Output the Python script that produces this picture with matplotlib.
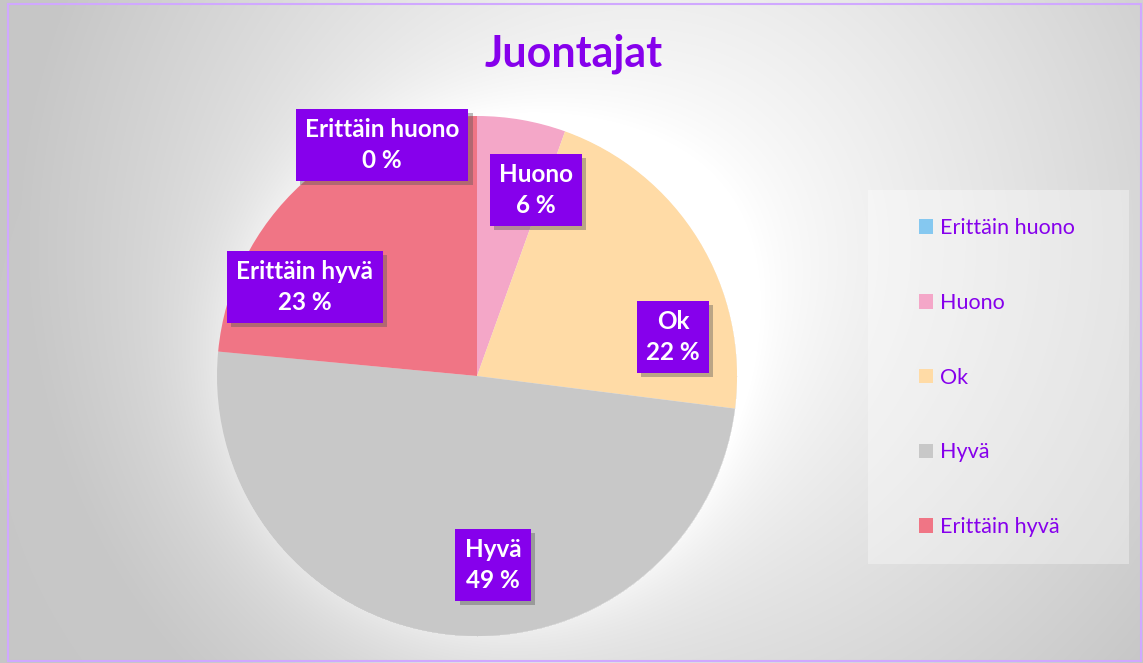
import numpy as np
import matplotlib.pyplot as plt
import matplotlib.patheffects as pe
from matplotlib.patches import Rectangle

# data
categories = ["Erittäin huono", "Huono", "Ok", "Hyvä", "Erittäin hyvä"]
shares = [0, 5.5, 21.5, 49.5, 23.5]
pct_labels = ["0 %", "6 %", "22 %", "49 %", "23 %"]
colors = ["#85C8F0", "#F4A7C8", "#FFDBA6", "#C8C8C8", "#F07585"]

# layout in pixels (y measured from top)
W, H = 1143, 663
cx, cy, R = 477, 376, 260
label_pos = [(382, 145), (536, 190), (673, 337), (493, 565), (305, 287)]
purple = "#8600EC"

plt.rcParams['font.family'] = ['Lato', 'DejaVu Sans']

fig = plt.figure(figsize=(W / 100, H / 100), dpi=100)
ax = fig.add_axes([0, 0, 1, 1])

# background: radial grey gradient plus soft white glow around the pie
yy, xx = np.mgrid[0:H, 0:W]
d = np.sqrt((xx - 660) ** 2 + (yy - 240) ** 2) / 640
v = 1 - 0.22 * np.clip(d, 0, 1) ** 1.2
dp = np.sqrt((xx - cx) ** 2 + (yy - cy) ** 2) - R
glow = np.where(dp > 0, np.exp(-dp / 45), 0)
v = np.clip(v + 0.06 * glow, 0, 1)
img = np.dstack([v, v, v])
ax.imshow(img, extent=(0, W, 0, H), origin='upper', zorder=0)

wedges, _ = ax.pie(shares, colors=colors, startangle=90, counterclock=False,
                   center=(cx, H - cy), radius=R,
                   wedgeprops=dict(linewidth=0))
for w in wedges:
    w.set_zorder(2)

for (px, py), cat, pct in zip(label_pos, categories, pct_labels):
    t = ax.text(px, H - py, cat + "\n" + pct, ha='center', va='center',
                ma='center', color='white', fontsize=17.5, fontweight='bold',
                linespacing=1.4, zorder=5,
                bbox=dict(boxstyle='square,pad=0.38', fc=purple, ec='none'))
    t.get_bbox_patch().set_path_effects(
        [pe.SimplePatchShadow(offset=(3, -3), shadow_rgbFace='#555555', alpha=0.4),
         pe.Normal()])

ax.text(574, H - 67, "Juontajat", ha='center', va='baseline', color=purple,
        fontsize=31, fontweight='bold', zorder=5)

# legend panel
ax.add_patch(Rectangle((868, H - 564), 1129 - 868, 564 - 190, fc='white',
                       alpha=0.35, ec='none', zorder=1))
leg = ax.legend(wedges, categories, loc='upper left', bbox_to_anchor=(908, H - 207),
                bbox_transform=ax.transData, frameon=False, fontsize=15.5,
                labelcolor=purple, handlelength=0.68, handleheight=0.68,
                handletextpad=0.3, labelspacing=2.55, borderpad=0)

# outer border
ax.add_patch(Rectangle((8, 2), W - 10, H - 6, fc='none', ec='#D0A8FF', lw=1.5, zorder=6))

ax.set_xlim(0, W)
ax.set_ylim(0, H)
ax.axis('off')
fig.savefig("out.png", dpi=100)
